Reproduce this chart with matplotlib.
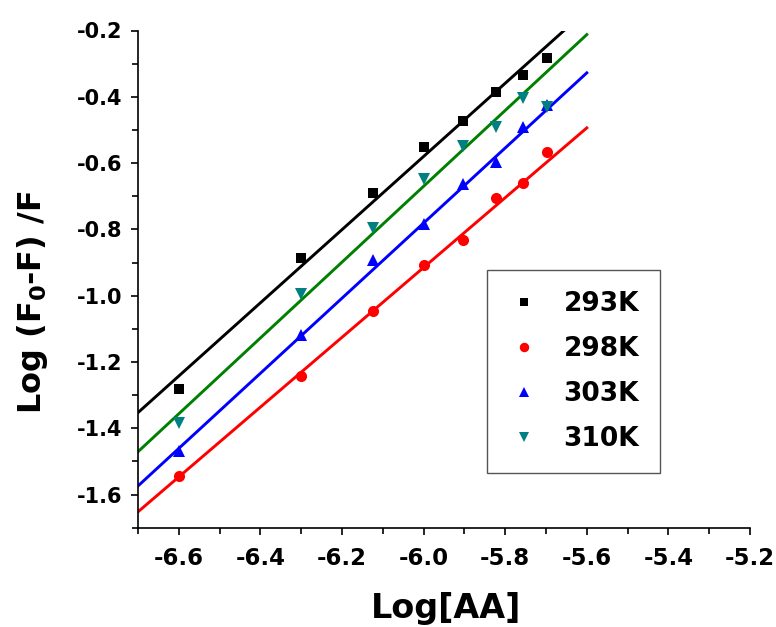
import matplotlib
matplotlib.use("Agg")
import matplotlib.pyplot as plt
import numpy as np
from matplotlib.ticker import MultipleLocator
from matplotlib.lines import Line2D

# ---- data ----
log_aa = [-6.60, -6.30, -6.124, -6.00, -5.904, -5.822, -5.756, -5.697]
y_293 = [-1.283, -0.886, -0.689, -0.551, -0.474, -0.386, -0.333, -0.283]
y_298 = [-1.543, -1.243, -1.047, -0.908, -0.832, -0.704, -0.660, -0.566]
y_303 = [-1.470, -1.119, -0.892, -0.784, -0.662, -0.598, -0.490, -0.424]
y_310 = [-1.385, -0.994, -0.797, -0.648, -0.548, -0.492, -0.405, -0.430]

labels = ["293K", "298K", "303K", "310K"]
# fitted lines: y = n * x + logK
fit_n = [1.104, 1.053, 1.133, 1.144]
fit_logk = [6.044, 5.403, 6.017, 6.194]
fit_range = [-6.7, -5.6]

x_ticks = [-6.6, -6.4, -6.2, -6.0, -5.8, -5.6, -5.4, -5.2]
y_ticks = [-1.6, -1.4, -1.2, -1.0, -0.8, -0.6, -0.4, -0.2]

series = [y_293, y_298, y_303, y_310]
marker_colors = ["#000000", "#ff0000", "#0000ff", "#008080"]
line_colors = ["#000000", "#ff0000", "#0000ff", "#008000"]
markers = ["s", "o", "^", "v"]
msizes = [7, 8, 9, 9]

plt.rcParams["mathtext.fontset"] = "dejavusans"

fig = plt.figure(figsize=(7.76, 6.27), dpi=100)
ax = fig.add_axes([138 / 776, 1 - 527.7 / 627, 612 / 776, 497.2 / 627])

xs_fit = np.array(fit_range)
for ys, n, k, mc, lc, m, ms in zip(series, fit_n, fit_logk, marker_colors,
                                     line_colors, markers, msizes):
    ax.plot(xs_fit, n * xs_fit + k, color=lc, lw=2.1, zorder=2)
    ax.plot(log_aa, ys, linestyle="none", marker=m, color=mc, ms=ms,
            markeredgewidth=0, zorder=3)

ax.set_xlim(-6.7, -5.2)
ax.set_ylim(-1.7, -0.2)
ax.set_xticks(x_ticks)
ax.set_yticks(y_ticks)
ax.set_xticklabels([f"{v:.1f}" for v in x_ticks])
ax.set_yticklabels([f"{v:.1f}" for v in y_ticks])
ax.xaxis.set_minor_locator(MultipleLocator(0.1))
ax.yaxis.set_minor_locator(MultipleLocator(0.1))

for s in ["top", "right"]:
    ax.spines[s].set_visible(False)
for s in ["left", "bottom"]:
    ax.spines[s].set_linewidth(1.2)

ax.tick_params(which="major", direction="out", length=5, width=1.2, pad=6)
ax.tick_params(which="minor", direction="out", length=4, width=1.2)
ax.tick_params(axis="y", which="major", labelsize=15)
ax.tick_params(axis="x", which="major", labelsize=16.5, pad=9)
for lab in ax.get_xticklabels() + ax.get_yticklabels():
    lab.set_fontweight("bold")
    lab.set_family("DejaVu Sans")

ax.set_xlabel("Log[AA]", fontsize=24, fontweight="bold", family="DejaVu Sans",
              va="center")
ax.xaxis.set_label_coords(0.503, -0.163)
ax.set_ylabel(r"Log (F$_\mathbf{0}$-F) /F", fontsize=23, fontweight="bold",
              family="DejaVu Sans", va="center")
ax.yaxis.set_label_coords(-0.173, 0.454)

handles = [Line2D([], [], linestyle="none", marker=m, color=c, ms=ms * 0.85,
                  markeredgewidth=0)
           for m, c, ms in zip(markers, marker_colors, msizes)]
leg = ax.legend(handles, labels, loc="upper left",
                bbox_to_anchor=((487 - 138) / 612, (527.7 - 270) / 497.2),
                frameon=True, fancybox=False, edgecolor="#555555",
                prop={"family": "DejaVu Sans", "weight": "bold", "size": 19},
                handlelength=1.2, handletextpad=0.9, labelspacing=0.72,
                borderpad=0.8, borderaxespad=0, framealpha=1)
leg.get_frame().set_linewidth(1.0)

fig.savefig("out.png", dpi=100)
